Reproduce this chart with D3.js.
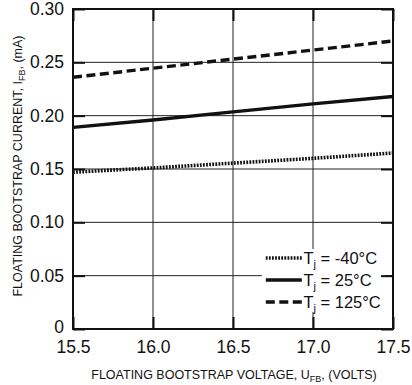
<!DOCTYPE html>
<html>
<head>
<meta charset="utf-8">
<script src="https://cdn.jsdelivr.net/npm/d3@7"></script>
<style>
  body { margin: 0; background: #fff; }
  svg { display: block; font-family: "Liberation Sans", Arial, sans-serif; }
</style>
</head>
<body>
<svg id="chart"></svg>
<script>
// data
const voltages = [15.5, 16.0, 16.5, 17.0, 17.5];
const currentM40 = [0.147, 0.151, 0.1555, 0.160, 0.165];
const current25 = [0.189, 0.196, 0.2035, 0.211, 0.218];
const current125 = [0.236, 0.2445, 0.253, 0.2615, 0.270];
const xTicks = [15.5, 16.0, 16.5, 17.0, 17.5];
const yTicks = [0, 0.05, 0.10, 0.15, 0.20, 0.25, 0.30];

const series = [
    { label: "-40°C", values: currentM40, dash: "1.8,1.3", width: 3.6 },
    { label: "25°C", values: current25, dash: null, width: 3.4 },
    { label: "125°C", values: current125, dash: "9,4.5", width: 3.4 }
];

const W = 412, H = 385;
const m = { left: 73, top: 9, right: 19, bottom: 56 };
const iw = W - m.left - m.right, ih = H - m.top - m.bottom;

const svg = d3.select("#chart").attr("width", W).attr("height", H);
const g = svg.append("g").attr("transform", `translate(${m.left},${m.top})`);

const x = d3.scaleLinear().domain([15.5, 17.5]).range([0, iw]);
const y = d3.scaleLinear().domain([0, 0.30]).range([ih, 0]);

// grid lines
g.selectAll(".vgrid").data(xTicks.slice(1, -1)).enter().append("line")
    .attr("x1", d => x(d)).attr("x2", d => x(d))
    .attr("y1", 0).attr("y2", ih)
    .attr("stroke", "#222").attr("stroke-width", 1);
g.selectAll(".hgrid").data(yTicks.slice(1, -1)).enter().append("line")
    .attr("y1", d => y(d)).attr("y2", d => y(d))
    .attr("x1", 0).attr("x2", iw)
    .attr("stroke", "#222").attr("stroke-width", 1);

// data lines
const line = d3.line().x((d, i) => x(voltages[i])).y(d => y(d));
series.forEach(s => {
    g.append("path").datum(s.values)
        .attr("d", line)
        .attr("fill", "none")
        .attr("stroke", "#111")
        .attr("stroke-width", s.width)
        .attr("stroke-dasharray", s.dash);
});

// legend
const lg = g.append("g");
lg.append("rect")
    .attr("x", x(16.68)).attr("y", y(0.075))
    .attr("width", x(17.45) - x(16.68)).attr("height", y(0.016) - y(0.075))
    .attr("fill", "#fff");
series.forEach((s, i) => {
    const yy = y(0.0665) + i * 22;
    lg.append("line")
        .attr("x1", x(16.705)).attr("x2", x(16.93))
        .attr("y1", yy).attr("y2", yy)
        .attr("stroke", "#111").attr("stroke-width", s.width)
        .attr("stroke-dasharray", s.dash);
    const t = lg.append("text")
        .attr("x", x(16.94)).attr("y", yy + 6)
        .attr("font-size", 16.5).attr("fill", "#111");
    t.append("tspan").text("T");
    t.append("tspan").attr("font-size", 11).attr("dy", 4).text("j");
    t.append("tspan").attr("dy", -4).text(" = " + s.label);
});

// frame and inner ticks
g.append("rect").attr("width", iw).attr("height", ih)
    .attr("fill", "none").attr("stroke", "#111").attr("stroke-width", 2);

const axB = d3.axisBottom(x).tickValues(xTicks).tickSize(-12).tickFormat(d3.format(".1f"));
const axL = d3.axisLeft(y).tickValues(yTicks).tickSize(-12)
    .tickFormat(d => d === 0 ? "0" : d3.format(".2f")(d));
const axT = d3.axisTop(x).tickValues(xTicks).tickSize(-12).tickFormat("");
const axR = d3.axisRight(y).tickValues(yTicks).tickSize(-12).tickFormat("");

function styleAxis(sel) {
    sel.select(".domain").remove();
    sel.selectAll(".tick line").attr("stroke", "#111").attr("stroke-width", 2);
    sel.selectAll(".tick text").attr("fill", "#111").attr("font-size", 17.5)
        .attr("font-family", "Liberation Sans, Arial, sans-serif");
}
g.append("g").attr("transform", `translate(0,${ih})`).call(axB).call(styleAxis)
    .selectAll(".tick text").attr("y", 12);
g.append("g").call(axL).call(styleAxis)
    .selectAll(".tick text").attr("x", -9)
    .attr("y", d => d === 0 ? -2 : 0);
g.append("g").call(axT).call(styleAxis);
g.append("g").attr("transform", `translate(${iw},0)`).call(axR).call(styleAxis);

// axis titles
const xt = svg.append("text")
    .attr("x", m.left + iw / 2 + 1).attr("y", 379)
    .attr("text-anchor", "middle").attr("font-size", 12.5).attr("fill", "#111");
xt.append("tspan").text("FLOATING BOOTSTRAP VOLTAGE, U");
xt.append("tspan").attr("font-size", 9).attr("dy", 3).text("FB");
xt.append("tspan").attr("dy", -3).text(", (VOLTS)");

const yt = svg.append("text")
    .attr("transform", `translate(22,${m.top + ih / 2 - 3}) rotate(-90)`)
    .attr("text-anchor", "middle").attr("font-size", 12.5).attr("fill", "#111");
yt.append("tspan").text("FLOATING BOOTSTRAP CURRENT, I");
yt.append("tspan").attr("font-size", 9).attr("dy", 3).text("FB");
yt.append("tspan").attr("dy", -3).text(", (mA)");
</script>
</body>
</html>
